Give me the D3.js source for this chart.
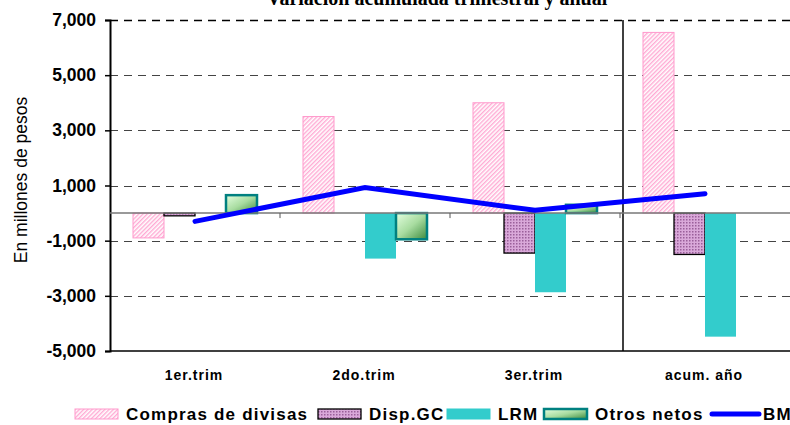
<!DOCTYPE html>
<html>
<head>
<meta charset="utf-8">
<script src="https://cdn.jsdelivr.net/npm/d3@7"></script>
<style>
  body { margin: 0; background: #fff; }
  svg { display: block; font-family: "Liberation Sans", Arial, sans-serif; }
</style>
</head>
<body>
<svg width="790" height="425"></svg>
<script>
// datos
const categorias = ["1er.trim", "2do.trim", "3er.trim", "acum. año"];
const series = ["Compras de divisas", "Disp.GC", "LRM", "Otros netos"];
const compras = [-900, 3500, 4000, 6550];
const dispGC = [-100, 0, -1450, -1500];
const lrm = [0, -1650, -2870, -4480];
const otros = [650, -950, 300, 0];
const bm = [-300, 930, 100, 700];
const ticksY = [7000, 5000, 3000, 1000, -1000, -3000, -5000];

const valores = [compras, dispGC, lrm, otros];

const svg = d3.select("svg");
const defs = svg.append("defs");

// patrones de relleno
const pRosa = defs.append("pattern").attr("id", "rosa")
    .attr("width", 3).attr("height", 3)
    .attr("patternUnits", "userSpaceOnUse")
    .attr("patternTransform", "rotate(45)");
pRosa.append("rect").attr("width", 3).attr("height", 3).attr("fill", "#fff");
pRosa.append("rect").attr("width", 1.4).attr("height", 3).attr("fill", "#ffaad4");

const pLila = defs.append("pattern").attr("id", "lila")
    .attr("width", 3).attr("height", 3)
    .attr("patternUnits", "userSpaceOnUse");
pLila.append("rect").attr("width", 3).attr("height", 3).attr("fill", "#d9a8d9");
pLila.append("rect").attr("width", 1.5).attr("height", 1.5).attr("fill", "#9a5f9a");

const grad = defs.append("linearGradient").attr("id", "verde")
    .attr("x1", "0%").attr("y1", "0%").attr("x2", "100%").attr("y2", "100%");
grad.append("stop").attr("offset", "0%").attr("stop-color", "#e4ffe0");
grad.append("stop").attr("offset", "50%").attr("stop-color", "#a8dca0");
grad.append("stop").attr("offset", "100%").attr("stop-color", "#3d8a3d");

const rellenos = ["url(#rosa)", "url(#lila)", "#33cccc", "url(#verde)"];
const bordes = ["#ff99cc", "#000", "#33cccc", "#008080"];
const grosor = [1, 1.3, 0, 2.5];

const mIzq = 110, mDer = 790, mSup = 20, mInf = 351;

const y = d3.scaleLinear().domain([-5000, 7000]).range([mInf, mSup]);
const x0 = d3.scaleBand().domain(categorias).range([mIzq, mDer]);
const x1 = d3.scaleBand().domain(series).range([23, x0.bandwidth() - 23]);

// titulo (cortado arriba, como en el original)
svg.append("text")
    .attr("x", 437).attr("y", 5)
    .attr("text-anchor", "middle")
    .style("font-family", "'Liberation Serif', 'Times New Roman', serif")
    .style("font-weight", "bold")
    .style("font-size", "20px")
    .text("Variación acumulada trimestral y anual");

// lineas de grilla
svg.append("g").selectAll("line")
    .data(ticksY.filter(d => d !== -5000))
    .enter()
    .append("line")
    .attr("x1", mIzq).attr("x2", mDer)
    .attr("y1", d => Math.round(y(d)) + 0.5).attr("y2", d => Math.round(y(d)) + 0.5)
    .style("stroke", (d, i) => i === 0 ? "#000" : "#444")
    .style("stroke-width", (d, i) => i === 0 ? 1.5 : 1)
    .style("stroke-dasharray", "8,6");

// eje Y (guion normal en los negativos)
const formato = d3.format(",");
const ejeY = d3.axisLeft(y).tickValues(ticksY).tickSize(5)
    .tickFormat(d => formato(d).replace("−", "-"));
const gY = svg.append("g").attr("transform", `translate(${mIzq},0)`).call(ejeY);
gY.select(".domain").attr("stroke", "#000").attr("stroke-width", 2);
gY.selectAll(".tick line").attr("stroke", "#000").attr("stroke-width", 1.5);
gY.selectAll(".tick text")
    .attr("x", -14)
    .style("font-family", "'Liberation Sans', Arial, sans-serif")
    .style("font-size", "17.5px")
    .style("font-weight", "bold")
    .attr("fill", "#000");

// linea inferior
svg.append("line")
    .attr("x1", mIzq).attr("x2", mDer)
    .attr("y1", mInf).attr("y2", mInf)
    .style("stroke", "#000").style("stroke-width", 1.5);

// separador acumulado
svg.append("line")
    .attr("x1", x0("acum. año") + 3).attr("x2", x0("acum. año") + 3)
    .attr("y1", mSup).attr("y2", mInf)
    .style("stroke", "#000").style("stroke-width", 1.5);

// titulo eje Y
svg.append("text")
    .attr("transform", "translate(27,180) rotate(-90)")
    .attr("text-anchor", "middle")
    .style("font-size", "17.5px")
    .text("En millones de pesos");

// barras
const grupos = svg.append("g").selectAll("g")
    .data(categorias)
    .enter()
    .append("g")
    .attr("transform", d => `translate(${x0(d)},0)`);

grupos.selectAll("rect")
    .data((d, i) => series.map((s, j) => ({ serie: s, j: j, v: valores[j][i] })).filter(d => d.v !== 0))
    .enter()
    .append("rect")
    .attr("x", d => x1(d.serie))
    .attr("width", x1.bandwidth())
    .attr("y", d => y(Math.max(0, d.v)))
    .attr("height", d => Math.abs(y(d.v) - y(0)))
    .style("fill", d => rellenos[d.j])
    .style("stroke", d => bordes[d.j])
    .style("stroke-width", d => grosor[d.j]);

// linea de cero y marcas
svg.append("line")
    .attr("x1", mIzq).attr("x2", mDer)
    .attr("y1", y(0)).attr("y2", y(0))
    .style("stroke", "#777").style("stroke-width", 1.5);
svg.append("g").selectAll("line")
    .data(categorias.slice(1))
    .enter()
    .append("line")
    .attr("x1", d => x0(d)).attr("x2", d => x0(d))
    .attr("y1", y(0)).attr("y2", y(0) + 5)
    .style("stroke", "#555").style("stroke-width", 1);

// linea BM
const linea = d3.line()
    .x((d, i) => x0(categorias[i]) + x0.bandwidth() / 2)
    .y(d => y(d));
svg.append("path")
    .datum(bm)
    .attr("d", linea)
    .style("fill", "none")
    .style("stroke", "#0000ff")
    .style("stroke-width", 5)
    .style("stroke-linecap", "round");

// etiquetas X
svg.append("g").selectAll("text")
    .data(categorias)
    .enter()
    .append("text")
    .attr("x", d => x0(d) + x0.bandwidth() / 2 - 1)
    .attr("y", 380)
    .attr("text-anchor", "middle")
    .style("font-size", "14px")
    .style("font-weight", "bold")
    .style("letter-spacing", "1px")
    .text(d => d);

// leyenda
const leyenda = [
    { nombre: "Compras de divisas", x: 75 },
    { nombre: "Disp.GC", x: 318 },
    { nombre: "LRM", x: 447 },
    { nombre: "Otros netos", x: 544 },
    { nombre: "BM", x: 710 }
];
const gL = svg.append("g");
leyenda.forEach((d, i) => {
    if (i < 4) {
        gL.append("rect")
            .attr("x", d.x).attr("y", 409)
            .attr("width", 43).attr("height", 10)
            .style("fill", rellenos[i])
            .style("stroke", bordes[i])
            .style("stroke-width", i === 3 ? 2.5 : (i === 1 ? 1.3 : 1));
    } else {
        gL.append("line")
            .attr("x1", d.x + 2).attr("x2", d.x + 49)
            .attr("y1", 414).attr("y2", 414)
            .style("stroke", "#0000ff").style("stroke-width", 5)
            .style("stroke-linecap", "round");
    }
    gL.append("text")
        .attr("x", d.x + (i < 4 ? 51 : 53))
        .attr("y", 420)
        .style("font-size", "17px")
        .style("font-weight", "bold")
        .style("letter-spacing", "1.2px")
        .text(d.nombre);
});
</script>
</body>
</html>
